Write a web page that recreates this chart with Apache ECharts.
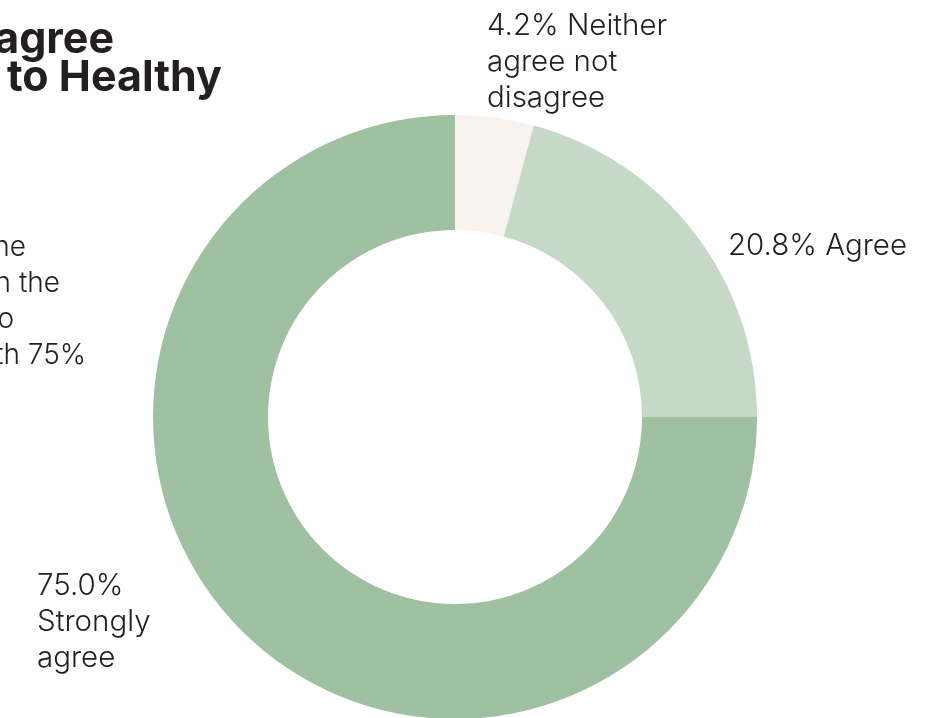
<!DOCTYPE html>
<html>
<head>
<meta charset="utf-8">
<script src="https://cdn.jsdelivr.net/npm/echarts@6/dist/echarts.min.js"></script>
<style>
  html, body { margin: 0; padding: 0; background: #fff; }
  #chart { width: 945px; height: 718px; }
</style>
</head>
<body>
<div id="chart"></div>
<script>
// data
var categories = ['Neither agree not disagree', 'Agree', 'Strongly agree'];
var shares = [4.2, 20.8, 75.0];
var colors = ['#f8f3ee', '#c5d9c6', '#9fc0a1'];
// label text, as it is broken into lines in the picture
var labelText = ['4.2% Neither\nagree not\ndisagree', '20.8% Agree', '75.0%\nStrongly\nagree'];
var titleLines = ['agree', 'to Healthy'];
var noteLines = ['he', 'n the', 'o', 'th 75%'];

var myChart = echarts.init(document.getElementById('chart'));

var font = 'Inter, "Noto Sans", sans-serif';
// where each label sits (left, top)
var labelPos = [[487, 8], [728, 228], [37, 568]];

var pieData = [];
for (var i = 0; i < categories.length; i++) {
  pieData.push({
    value: shares[i],
    name: categories[i],
    itemStyle: { color: colors[i] },
    label: { formatter: labelText[i] }
  });
}

var graphics = [];
titleLines.forEach(function (t, i) {
  graphics.push({
    type: 'text', x: [114, 222][i], y: [19, 57][i],
    style: { text: t, fill: '#231f20', font: 'bold 43px ' + font, textAlign: 'right' }
  });
});
var noteRight = [26, 60, 14, 86];
noteLines.forEach(function (t, i) {
  graphics.push({
    type: 'text', x: noteRight[i], y: 234 + i * 36,
    style: { text: t, fill: '#231f20', font: '300 28px ' + font, textAlign: 'right' }
  });
});

var option = {
  animation: false,
  graphic: graphics,
  series: [{
    type: 'pie',
    center: [455, 417],
    radius: [187, 302],
    startAngle: 90,
    clockwise: true,
    silent: true,
    label: {
      show: true,
      position: 'outside',
      color: '#231f20',
      fontFamily: font,
      fontWeight: 300,
      fontSize: 29.5,
      lineHeight: 36,
      align: 'left'
    },
    labelLine: { show: false },
    labelLayout: function (p) {
      var pos = labelPos[p.dataIndex];
      return { x: pos[0], y: pos[1], align: 'left', verticalAlign: 'top' };
    },
    data: pieData
  }]
};

myChart.setOption(option);
</script>
</body>
</html>
